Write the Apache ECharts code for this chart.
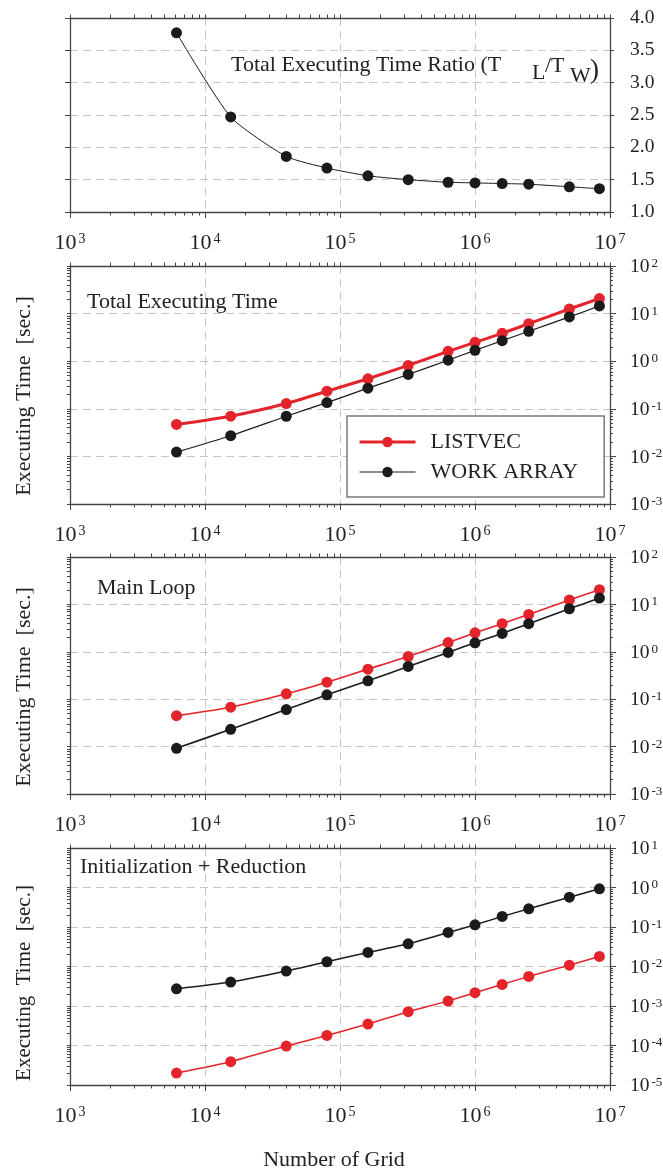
<!DOCTYPE html>
<html><head><meta charset="utf-8">
<script src="https://cdn.jsdelivr.net/npm/echarts@6/dist/echarts.min.js"></script>
<style>html,body{margin:0;padding:0;background:#fff}#c{width:663px;height:1169px}</style>
</head><body><div id="c"></div>
<script>
// ---------- data ----------
const gridSizes = [6150, 15500, 40000, 80000, 161000, 320000, 632000, 1000000, 1590000, 2500000, 5000000, 8350000];
const ratioTotal = [3.77, 2.47, 1.86, 1.68, 1.56, 1.50, 1.46, 1.45, 1.44, 1.43, 1.39, 1.36];
const totalListvec = [0.047, 0.070, 0.129, 0.234, 0.427, 0.815, 1.61, 2.49, 3.85, 6.15, 12.5, 20.7];
const totalWork = [0.0123, 0.0272, 0.0697, 0.135, 0.271, 0.526, 1.05, 1.69, 2.70, 4.25, 8.51, 14.5];
const mainListvec = [0.045, 0.0677, 0.130, 0.229, 0.431, 0.796, 1.57, 2.52, 3.91, 6.15, 12.4, 20.4];
const mainWork = [0.0092, 0.0232, 0.0605, 0.124, 0.244, 0.490, 0.968, 1.55, 2.44, 3.91, 8.09, 13.6];
const initListvec = [2.01e-5, 3.89e-5, 9.7e-5, 1.80e-4, 3.49e-4, 7.16e-4, 1.33e-3, 2.17e-3, 3.52e-3, 5.61e-3, 1.08e-2, 1.80e-2];
const initWork = [0.00273, 0.00403, 0.00765, 0.0132, 0.0227, 0.0376, 0.0727, 0.1137, 0.185, 0.289, 0.569, 0.925];
const xExponents = [3, 4, 5, 6, 7];
const ratioTickLabels = ['1.0', '1.5', '2.0', '2.5', '3.0', '3.5', '4.0'];
const logYExponents = [[-3, 2], [-3, 2], [-5, 1]];
const seriesNames = ['LISTVEC', 'WORK ARRAY'];
const panelTitles = ['Total Executing Time', 'Main Loop', 'Initialization + Reduction'];
const yName = 'Executing Time  [sec.]';
const xName = 'Number of Grid';

// ---------- style / layout ----------
const FONT = "'Liberation Serif','Times New Roman',serif";
const RED = '#e3242b', BLACK = '#1b1b1b', AXIS = '#444', GRIDC = '#c6c6c6', TXT = '#222';
const panels = [
  { top: 18, height: 194 },
  { top: 266, height: 238 },
  { top: 557, height: 237 },
  { top: 848, height: 237 }
];
const X_MIN = Math.pow(10, xExponents[0]), X_MAX = Math.pow(10, xExponents[xExponents.length - 1]);

function minorValues(e0, e1) {
  const out = [];
  for (let e = e0; e < e1; e++) for (let m = 2; m <= 9; m++) out.push(m * Math.pow(10, e));
  return out;
}
function decadeValues(e0, e1) { const o = []; for (let e = e0; e <= e1; e++) o.push(Math.pow(10, e)); return o; }
function powLabel(v) {
  const e = Math.round(Math.log10(v));
  return '{b|10}{s|' + e + '}';
}
const xRich = {
  b: { fontFamily: FONT, fontSize: 22, lineHeight: 25, verticalAlign: 'top', color: TXT },
  s: { fontFamily: FONT, fontSize: 14, lineHeight: 20, verticalAlign: 'top', color: TXT, padding: [0, 0, 0, 2] }
};
const yRich = {
  b: { fontFamily: FONT, fontSize: 19.5, lineHeight: 22, verticalAlign: 'top', color: TXT },
  s: { fontFamily: FONT, fontSize: 13, lineHeight: 17, verticalAlign: 'top', color: TXT, padding: [0, 0, 0, 2] }
};
const axisLineStyle = { show: true, onZero: false, lineStyle: { color: AXIS, width: 1.3 } };
const splitStyle = { show: true, lineStyle: { color: GRIDC, width: 1, type: [8, 5] } };

const grids = [], xAxes = [], yAxes = [];
panels.forEach((p, i) => {
  grids.push({ left: 70, right: 53, top: p.top, height: p.height, outerBoundsMode: 'none', containLabel: false });
  xAxes.push({
    type: 'log', gridIndex: i, min: X_MIN, max: X_MAX, position: 'bottom', splitNumber: 4,
    axisLine: axisLineStyle,
    axisTick: { show: true, inside: false, length: 6, lineStyle: { color: AXIS, width: 1 } },
    axisLabel: { show: true, margin: 20, formatter: powLabel, rich: xRich },
    splitLine: splitStyle
  });
  xAxes.push({
    type: 'log', gridIndex: i, min: X_MIN, max: X_MAX, position: 'bottom',
    axisLine: { show: false },
    axisTick: { show: true, inside: false, length: 3.5, customValues: minorValues(xExponents[0], xExponents[4]), lineStyle: { color: AXIS, width: 1 } },
    axisLabel: { show: false }, splitLine: { show: false }
  });
  xAxes.push({
    type: 'log', gridIndex: i, min: X_MIN, max: X_MAX, position: 'top',
    axisLine: axisLineStyle,
    axisTick: { show: true, inside: false, length: 3.5, customValues: minorValues(xExponents[0], xExponents[4]).concat(decadeValues(xExponents[0], xExponents[4])), lineStyle: { color: AXIS, width: 1 } },
    axisLabel: { show: false }, splitLine: { show: false }
  });
  if (i === 0) {
    yAxes.push({
      type: 'value', gridIndex: i, min: 1, max: 4, interval: 0.5, position: 'right',
      axisLine: axisLineStyle,
      axisTick: { show: true, inside: false, length: 4, lineStyle: { color: AXIS } },
      axisLabel: { show: true, margin: 20, fontFamily: FONT, fontSize: 19.5, color: TXT, padding: [4, 0, 0, 0],
        formatter: v => ratioTickLabels[Math.round((v - 1) / 0.5)] },
      splitLine: splitStyle
    });
    yAxes.push({ type: 'value', gridIndex: i, min: 1, max: 4, interval: 0.5, position: 'right', show: false });
    yAxes.push({
      type: 'value', gridIndex: i, min: 1, max: 4, interval: 0.5, position: 'left',
      axisLine: axisLineStyle,
      axisTick: { show: true, inside: false, length: 5, lineStyle: { color: AXIS } },
      axisLabel: { show: false }, splitLine: { show: false }
    });
  } else {
    const [e0, e1] = logYExponents[i - 1];
    const yMin = Math.pow(10, e0), yMax = Math.pow(10, e1);
    yAxes.push({
      type: 'log', gridIndex: i, min: yMin, max: yMax, position: 'right', splitNumber: e1 - e0,
      axisLine: axisLineStyle,
      axisTick: { show: true, inside: false, length: 6, lineStyle: { color: AXIS } },
      axisLabel: { show: true, margin: 20, formatter: powLabel, rich: yRich, padding: [4, 0, 0, 0] },
      splitLine: splitStyle
    });
    yAxes.push({
      type: 'log', gridIndex: i, min: yMin, max: yMax, position: 'right',
      axisLine: { show: false },
      axisTick: { show: true, inside: false, length: 3, customValues: minorValues(e0, e1), lineStyle: { color: AXIS } },
      axisLabel: { show: false }, splitLine: { show: false }
    });
    yAxes.push({
      type: 'log', gridIndex: i, min: yMin, max: yMax, position: 'left',
      axisLine: axisLineStyle,
      axisTick: { show: true, inside: false, length: 3, customValues: minorValues(e0, e1).concat(decadeValues(e0, e1)), lineStyle: { color: AXIS } },
      axisLabel: { show: false }, splitLine: { show: false }
    });
  }
});

function pts(ys) { return gridSizes.map((x, k) => [x, ys[k]]); }
function line(name, gi, ys, color, w) {
  return {
    name, type: 'line', xAxisIndex: gi * 3, yAxisIndex: gi * 3, data: pts(ys),
    symbol: 'circle', symbolSize: 11, showSymbol: true, smooth: 0.2,
    itemStyle: { color: color }, lineStyle: { color: color, width: w },
    z: 5, animation: false
  };
}
const series = [
  line('Ratio', 0, ratioTotal, BLACK, 1),
  line(seriesNames[0], 1, totalListvec, RED, 3),
  line(seriesNames[1], 1, totalWork, BLACK, 1.2),
  line(seriesNames[0], 2, mainListvec, RED, 1.6),
  line(seriesNames[1], 2, mainWork, BLACK, 1.6),
  line(seriesNames[0], 3, initListvec, RED, 1.5),
  line(seriesNames[1], 3, initWork, BLACK, 1.5)
];

function txt(x, y, text, size, extra, align) {
  return Object.assign({
    type: 'text', x: x, y: y, z: 10,
    style: { text: text, fontFamily: FONT, fontSize: size, fill: TXT,
      align: align || 'left', verticalAlign: 'middle', textAlign: align || 'left', textVerticalAlign: 'middle' }
  }, extra || {});
}
const graphic = [
  txt(231, 65, 'Total Executing Time Ratio (T', 22),
  txt(532, 73, 'L', 22),
  txt(545, 66, '/T', 22),
  txt(570, 76, 'W', 22),
  txt(590, 71, ')', 27),
  txt(87, 302, panelTitles[0], 22),
  txt(97, 588, panelTitles[1], 22),
  txt(80, 867, panelTitles[2], 22),
  txt(334, 1160, xName, 22, null, 'center'),
  txt(24, 396, yName, 22, { rotation: Math.PI / 2 }, 'center'),
  txt(24, 687, yName, 22, { rotation: Math.PI / 2 }, 'center'),
  txt(24, 983, 'Executing  Time  [sec.]', 21, { rotation: Math.PI / 2 }, 'center')
];

const chart = echarts.init(document.getElementById('c'), null, { renderer: 'canvas' });
chart.setOption({
  animation: false,
  backgroundColor: '#fff',
  grid: grids, xAxis: xAxes, yAxis: yAxes, series: series, graphic: graphic,
  legend: {
    data: [
      { name: seriesNames[0], lineStyle: { width: 3, color: RED }, itemStyle: { color: RED } },
      { name: seriesNames[1], lineStyle: { width: 1.2, color: BLACK }, itemStyle: { color: BLACK } }
    ],
    orient: 'vertical', left: 347, top: 416,
    backgroundColor: '#fff', borderColor: '#7a7a7a', borderWidth: 1.5,
    padding: [15, 26, 14, 11], itemGap: 8, itemWidth: 56, itemHeight: 13,
    textStyle: { fontFamily: FONT, fontSize: 22, color: TXT, padding: [0, 0, 0, 10] },
    selectedMode: false
  }
});
</script></body></html>
